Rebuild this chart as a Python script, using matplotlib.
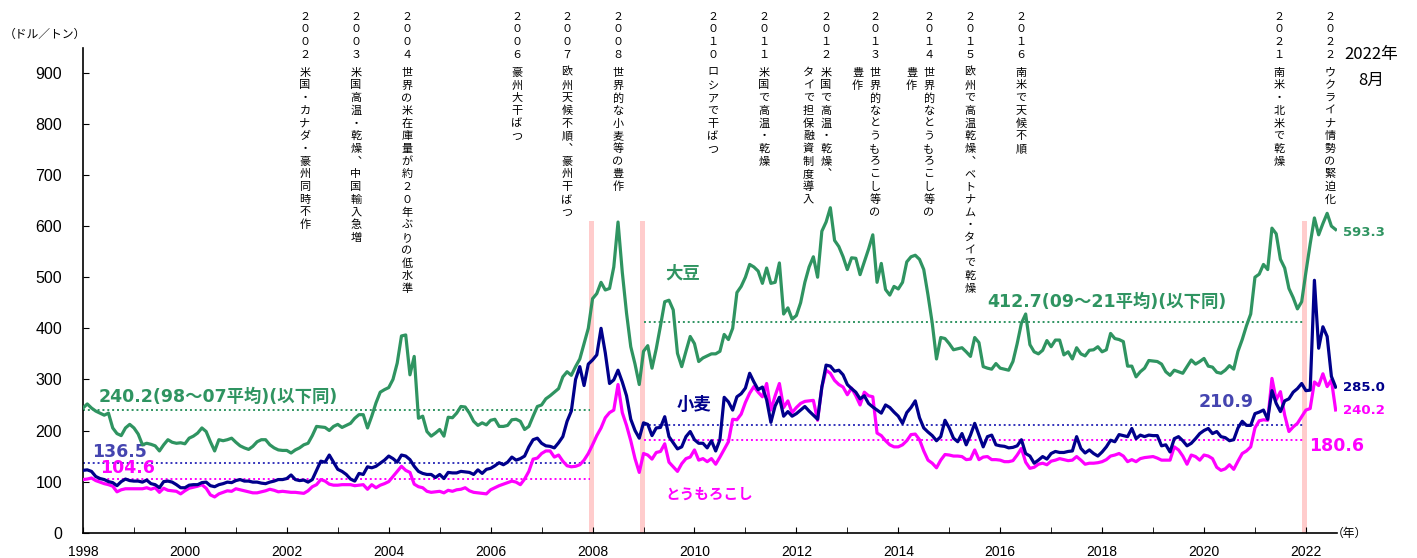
import numpy as np
import pandas as pd
import matplotlib
matplotlib.use("Agg")
import matplotlib.pyplot as plt

# monthly prices (USD/t), Jan 1998 - Aug 2022
soy = [
    244, 252, 244, 238, 234, 230, 234, 205, 194, 190, 205, 212,  # 1998
    205, 193, 172, 175, 173, 170, 160, 172, 182, 177, 175, 176,  # 1999
    174, 185, 189, 195, 205, 198, 178, 160, 182, 180, 182, 185,  # 2000
    177, 170, 166, 163, 169, 178, 182, 182, 172, 166, 162, 161,  # 2001
    161, 156, 162, 166, 172, 175, 190, 208, 207, 206, 200, 208,  # 2002
    212, 206, 210, 214, 224, 231, 231, 205, 228, 254, 275, 280,  # 2003
    284, 300, 332, 385, 387, 309, 345, 224, 228, 198, 189, 195,  # 2004
    202, 189, 226, 225, 234, 247, 246, 234, 218, 210, 215, 211,  # 2005
    220, 222, 208, 208, 210, 221, 222, 218, 202, 208, 228, 247,  # 2006
    250, 262, 268, 275, 282, 305, 315, 308, 325, 340, 370, 400,  # 2007
    458, 468, 490, 475, 478, 520, 608, 510, 430, 364, 330, 290,  # 2008
    355, 366, 322, 360, 405, 452, 455, 436, 351, 325, 355, 384,  # 2009
    370, 335, 342, 346, 350, 350, 355, 388, 378, 400, 470, 482,  # 2010
    500, 525, 520, 512, 488, 518, 488, 490, 528, 428, 440, 418,  # 2011
    425, 450, 490, 520, 540, 500, 590, 608, 636, 572, 560, 540,  # 2012
    515, 538, 537, 505, 530, 555, 583, 490, 527, 476, 465, 482,  # 2013
    477, 490, 530, 540, 543, 535, 515, 465, 410, 340, 382, 380,  # 2014
    370, 358, 360, 362, 354, 345, 382, 372, 325, 322, 320, 331,  # 2015
    322, 320, 318, 335, 370, 410, 428, 368, 354, 350, 357, 376,  # 2016
    364, 377, 377, 348, 354, 340, 362, 350, 346, 357, 358, 364,  # 2017
    354, 358, 390, 380, 378, 374, 326, 326, 305, 315, 322, 337,  # 2018
    336, 335, 330, 315, 308, 318, 315, 312, 325, 338, 330, 335,  # 2019
    341, 326, 324, 314, 312, 318, 327, 320, 355, 378, 405, 428,  # 2020
    500, 506, 525, 515, 596, 585, 535, 518, 478, 460, 438, 452,  # 2021
    510, 565, 616, 583, 605, 625, 600, 593.3,                    # 2022
]

wheat = [
    122, 123, 120, 110, 106, 104, 100, 98, 92, 100, 105, 102,    # 1998
    101, 101, 99, 103, 96, 94, 88, 100, 101, 99, 94, 88,         # 1999
    88, 93, 94, 94, 98, 99, 92, 90, 94, 96, 99, 98,              # 2000
    102, 104, 101, 101, 99, 99, 97, 96, 99, 101, 104, 104,       # 2001
    106, 113, 104, 102, 103, 99, 104, 122, 140, 138, 152, 138,   # 2002
    124, 120, 114, 105, 101, 116, 114, 129, 127, 130, 136, 142,  # 2003
    150, 145, 138, 152, 150, 143, 130, 120, 116, 114, 114, 108,  # 2004
    114, 106, 118, 117, 117, 120, 119, 118, 114, 123, 116, 124,  # 2005
    126, 131, 137, 133, 138, 148, 142, 145, 150, 168, 182, 185,  # 2006
    175, 170, 169, 166, 176, 188, 218, 238, 300, 325, 288, 330,  # 2007
    338, 348, 400, 352, 292, 299, 318, 295, 268, 222, 200, 185,  # 2008
    215, 212, 190, 205, 206, 227, 188, 176, 164, 168, 188, 198,  # 2009
    182, 175, 175, 166, 180, 160, 182, 265, 256, 240, 266, 272,  # 2010
    283, 312, 295, 280, 285, 260, 216, 248, 265, 228, 237, 228,  # 2011
    233, 240, 247, 238, 230, 222, 285, 328, 326, 316, 318, 309,  # 2012
    290, 282, 275, 262, 268, 253, 246, 240, 234, 250, 245, 236,  # 2013
    228, 214, 235, 245, 258, 225, 205, 197, 190, 180, 188, 220,  # 2014
    205, 185, 178, 194, 172, 191, 214, 191, 168, 188, 191, 172,  # 2015
    170, 169, 166, 167, 170, 182, 155, 150, 136, 142, 149, 144,  # 2016
    155, 159, 157, 157, 159, 160, 188, 165, 156, 162, 155, 150,  # 2017
    158, 168, 181, 178, 192, 190, 188, 204, 184, 191, 188, 191,  # 2018
    190, 190, 170, 172, 158, 184, 188, 180, 170, 175, 184, 194,  # 2019
    200, 204, 194, 198, 188, 186, 180, 182, 205, 218, 210, 210,  # 2020
    233, 236, 240, 222, 278, 253, 237, 258, 262, 275, 282, 292,  # 2021
    278, 279, 494, 361, 403, 384, 306, 285.0,                    # 2022
]

corn = [
    104, 105, 107, 102, 99, 96, 94, 91, 80, 84, 86, 86,          # 1998
    86, 86, 86, 88, 85, 88, 79, 87, 83, 82, 81, 76,              # 1999
    82, 87, 89, 91, 94, 87, 74, 70, 76, 79, 82, 81,              # 2000
    86, 84, 82, 80, 78, 78, 80, 82, 85, 83, 80, 81,              # 2001
    80, 79, 79, 78, 77, 82, 90, 94, 104, 101, 95, 93,            # 2002
    93, 94, 94, 94, 92, 93, 94, 85, 94, 88, 93, 96,              # 2003
    100, 110, 120, 130, 122, 118, 95, 90, 88, 81, 79, 80,        # 2004
    81, 78, 83, 81, 84, 85, 88, 82, 79, 78, 77, 76,              # 2005
    84, 88, 92, 95, 98, 101, 99, 94, 105, 120, 144, 146,         # 2006
    155, 160, 160, 148, 152, 140, 131, 129, 130, 133, 142, 155,  # 2007
    172, 190, 205, 225, 235, 240, 290, 235, 210, 180, 145, 118,  # 2008
    155, 152, 144, 157, 159, 174, 138, 129, 120, 135, 145, 148,  # 2009
    162, 142, 145, 139, 145, 134, 148, 163, 178, 222, 221, 232,  # 2010
    255, 273, 286, 275, 266, 292, 240, 268, 292, 245, 258, 235,  # 2011
    245, 253, 257, 258, 259, 220, 285, 318, 312, 298, 290, 285,  # 2012
    270, 283, 268, 250, 275, 268, 266, 195, 190, 180, 172, 168,  # 2013
    168, 172, 180, 192, 193, 182, 160, 142, 136, 127, 142, 153,  # 2014
    152, 150, 150, 149, 143, 144, 162, 143, 148, 149, 143, 143,  # 2015
    142, 139, 139, 141, 152, 165, 138, 126, 128, 134, 136, 133,  # 2016
    140, 142, 145, 143, 141, 142, 149, 142, 134, 136, 136, 137,  # 2017
    139, 143, 150, 152, 155, 150, 139, 143, 139, 145, 147, 148,  # 2018
    149, 146, 142, 142, 142, 168, 162, 150, 134, 152, 149, 142,  # 2019
    152, 150, 145, 128, 122, 125, 133, 124, 140, 155, 160, 168,  # 2020
    205, 219, 221, 220, 302, 260, 276, 230, 198, 207, 214, 227,  # 2021
    240, 243, 295, 288, 311, 286, 299, 240.2,                    # 2022
]

# period averages: 98-07 and 09-21
avg_old = {"soy": 240.2, "wheat": 136.5, "corn": 104.6}
avg_new = {"soy": 412.7, "wheat": 210.9, "corn": 180.6}

band_years = [2008, 2009, 2022]

# (year, first column, second column, x pixel of first column)
events = [
    ("2002", "米国・カナダ・豪州同時不作", "", 305),
    ("2003", "米国高温・乾燥、中国輸入急増", "", 356),
    ("2004", "世界の米在庫量が約２０年ぶりの低水準", "", 407),
    ("2006", "豪州大干ばつ", "", 517),
    ("2007", "欧州天候不順、豪州干ばつ", "", 567),
    ("2008", "世界的な小麦等の豊作", "", 618),
    ("2010", "ロシアで干ばつ", "", 713),
    ("2011", "米国で高温・乾燥", "", 764),
    ("2012", "米国で高温・乾燥、", "タイで担保融資制度導入", 826),
    ("2013", "世界的なとうもろこし等の", "豊作", 875),
    ("2014", "世界的なとうもろこし等の", "豊作", 929),
    ("2015", "欧州で高温乾燥、ベトナム・タイで乾燥", "", 970),
    ("2016", "南米で天候不順", "", 1021),
    ("2021", "南米・北米で乾燥", "", 1279),
    ("2022", "ウクライナ情勢の緊迫化", "", 1330),
]

GREEN = "#2F9461"
NAVY = "#00008B"
SLATE = "#4545B0"
MAGENTA = "#FF00FF"
PINK = "#FFCCCC"

W, H = 1417, 558
JP = ["Noto Sans CJK JP", "DejaVu Sans"]
NUM = ["DejaVu Sans", "Noto Sans CJK JP"]

dates = pd.date_range("1998-01-01", periods=len(soy), freq="MS")
x = dates.year + (dates.month - 1) / 12.0

fig = plt.figure(figsize=(W / 100, H / 100), dpi=100)
ax = fig.add_axes([83 / W, 25.3 / H, (1337 - 83) / W, (532.7 - 48.3) / H])

for bx in band_years:
    ax.bar(bx - 0.02, 610, width=0.1, color=PINK, zorder=1)

ax.plot(x, soy, color=GREEN, lw=2.3, zorder=4)
ax.plot(x, wheat, color=NAVY, lw=2.3, zorder=5)
ax.plot(x, corn, color=MAGENTA, lw=2.3, zorder=3)

for key, col in [("soy", GREEN), ("wheat", "#3333BB"), ("corn", MAGENTA)]:
    ax.hlines(avg_old[key], 1998, 2007.95, colors=col, linestyles=(0, (1, 1.5)), lw=1.4, zorder=2)
    ax.hlines(avg_new[key], 2009, 2021.95, colors=col, linestyles=(0, (1, 1.5)), lw=1.4, zorder=2)

ax.set_xlim(1998, 2022.61)
ax.set_ylim(0, 948)
ax.set_yticks(range(0, 1000, 100))
ax.set_xticks(range(1998, 2023, 2))
ax.set_xticks(range(1998, 2023), minor=True)
ax.tick_params(axis="y", direction="in", length=4, pad=15, labelsize=11.5)
ax.tick_params(axis="x", which="both", direction="in", length=4, pad=9, labelsize=10)
for lab in ax.get_yticklabels() + ax.get_xticklabels():
    lab.set_family("Liberation Sans")
for s in ["top", "right"]:
    ax.spines[s].set_visible(False)
for s in ["left", "bottom"]:
    ax.spines[s].set_linewidth(1.2)

# series names
ax.text(2009.76, 508, "大豆", color=GREEN, fontsize=12.5, fontweight="bold", family=JP, ha="center", va="center")
ax.text(2010.0, 250, "小麦", color=NAVY, fontsize=12.5, fontweight="bold", family=JP, ha="center", va="center")
ax.text(2010.3, 76, "とうもろこし", color=MAGENTA, fontsize=10.5, fontweight="bold", family=JP, ha="center", va="center")

# average labels
ax.text(1998.3, 266, "240.2(98～07平均)(以下同)", color=GREEN, fontsize=12.5, fontweight="bold", family=NUM, va="center")
ax.text(1998.18, 158, "136.5", color=SLATE, fontsize=12.5, fontweight="bold", family=NUM, va="center")
ax.text(1998.33, 127, "104.6", color=MAGENTA, fontsize=12.5, fontweight="bold", family=NUM, va="center")
ax.text(2015.75, 451, "412.7(09～21平均)(以下同)", color=GREEN, fontsize=12.5, fontweight="bold", family=NUM, va="center")
ax.text(2019.9, 256, "210.9", color=SLATE, fontsize=12.5, fontweight="bold", family=NUM, va="center")
ax.text(2022.06, 170, "180.6", color=MAGENTA, fontsize=12.5, fontweight="bold", family=NUM, va="center")

# latest values
ax.text(2022.73, 587, "%.1f" % soy[-1], color=GREEN, fontsize=9.5, fontweight="bold", family=NUM, va="center", clip_on=False)
ax.text(2022.73, 285, "%.1f" % wheat[-1], color=NAVY, fontsize=9.5, fontweight="bold", family=NUM, va="center", clip_on=False)
ax.text(2022.73, 240, "%.1f" % corn[-1], color=MAGENTA, fontsize=9.5, fontweight="bold", family=NUM, va="center", clip_on=False)


def ftext(px, py, s, **kw):
    fig.text(px / W, 1 - py / H, s, **kw)


ftext(45, 34, "（ドル／トン）", fontsize=8.5, family=JP, ha="center", va="center")
ftext(1349, 533, "（年）", fontsize=8.5, family=JP, ha="center", va="center")
ftext(1371, 55, "2022年", fontsize=12, family=JP, ha="center", va="center")
ftext(1371, 80, "8月", fontsize=12, family=JP, ha="center", va="center")

# vertical event notes
PITCH = 12.7
FW = str.maketrans("0123456789", "０１２３４５６７８９")


def vtext(px, py, s):
    s = s.replace("、", "︑")
    for i, ch in enumerate(s):
        ftext(px, py + i * PITCH, ch, fontsize=8, family=JP, ha="center", va="center")


for yr, col1, col2, px in events:
    vtext(px, 16.7, yr.translate(FW))
    vtext(px, 72.7, col1)
    if col2:
        vtext(px - 17.5, 72.7, col2)

fig.savefig("out.png", dpi=100)
